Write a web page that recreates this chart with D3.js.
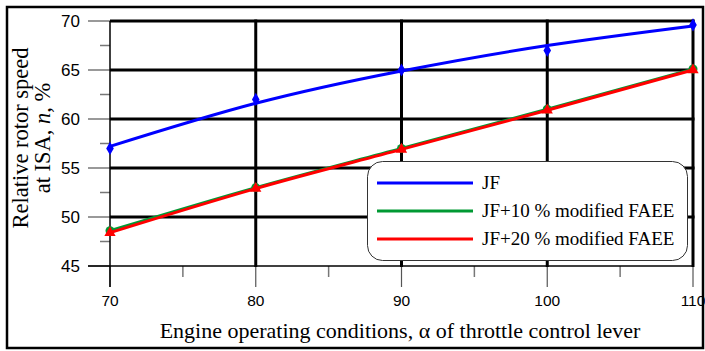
<!DOCTYPE html>
<html><head><meta charset="utf-8">
<script src="https://cdn.jsdelivr.net/npm/d3@7/dist/d3.min.js"></script>
<style>body{margin:0;background:#fff}svg{display:block}</style>
</head><body>
<svg id="c" width="705" height="351"></svg>
<script>
const xCats = [70, 80, 90, 100, 110];
const jfPoints = [57.0, 62.0, 65.0, 67.0, 69.6];
const jfTrend = [57.2, 61.6, 64.9, 67.5, 69.5];
const jf10Points = [48.6, 53.0, 57.0, 61.0, 65.1];
const jf20Points = [48.4, 52.9, 56.9, 60.9, 65.0];
const xTicks = [70, 80, 90, 100, 110];
const yTicks = [45, 50, 55, 60, 65, 70];
const seriesNames = ["JF", "JF+10 % modified FAEE", "JF+20 % modified FAEE"];
const colors = ["#0000ff", "#009933", "#ff0000"];

const svg = d3.select("#c");
const x = d3.scaleLinear().domain([70, 110]).range([110, 693]);
const y = d3.scaleLinear().domain([45, 70]).range([266, 21]);

// outer border
svg.append("rect").attr("x", 7).attr("y", 7).attr("width", 696).attr("height", 341)
  .attr("fill", "none").attr("stroke", "#000").attr("stroke-width", 2.5);

// minor ticks
const yMinor = d3.range(47.5, 70, 5);
svg.selectAll(".ymin").data(yMinor).enter().append("line")
  .attr("x1", 100).attr("x2", 110).attr("y1", d => y(d)).attr("y2", d => y(d))
  .attr("stroke", "#777").attr("stroke-width", 1.5);
const xMinor = d3.range(75, 110, 10);
svg.selectAll(".xmin").data(xMinor).enter().append("line")
  .attr("x1", d => x(d)).attr("x2", d => x(d)).attr("y1", 266).attr("y2", 277)
  .attr("stroke", "#777").attr("stroke-width", 1.5);

// major ticks
svg.selectAll(".ymaj").data(yTicks).enter().append("line")
  .attr("x1", 88).attr("x2", 110).attr("y1", d => y(d)).attr("y2", d => y(d))
  .attr("stroke", "#555").attr("stroke-width", 1.2);
svg.selectAll(".xmaj").data(xTicks).enter().append("line")
  .attr("x1", d => x(d)).attr("x2", d => x(d)).attr("y1", 266).attr("y2", 287)
  .attr("stroke", "#555").attr("stroke-width", 1.2);

// axis lines
svg.append("line").attr("x1", 110).attr("x2", 110).attr("y1", 21).attr("y2", 287)
  .attr("stroke", "#000").attr("stroke-width", 1.5);
svg.append("line").attr("x1", 88).attr("x2", 693).attr("y1", 266).attr("y2", 266)
  .attr("stroke", "#000").attr("stroke-width", 1.5);

// grid
svg.selectAll(".gy").data(yTicks.filter(d => d > 45)).enter().append("line")
  .attr("x1", 110).attr("x2", 694.5).attr("y1", d => y(d)).attr("y2", d => y(d))
  .attr("stroke", "#000").attr("stroke-width", 3);
svg.selectAll(".gx").data(xTicks.filter(d => d > 70)).enter().append("line")
  .attr("x1", d => x(d)).attr("x2", d => x(d)).attr("y1", 19.5).attr("y2", 267)
  .attr("stroke", "#000").attr("stroke-width", 3);

// tick labels
svg.selectAll(".yl").data(yTicks).enter().append("text")
  .attr("x", 80).attr("y", d => y(d)).attr("dy", "0.36em").attr("text-anchor", "end")
  .attr("font-family", "Liberation Sans, Arial, sans-serif").attr("font-size", 17)
  .text(d => d);
svg.selectAll(".xl").data(xTicks).enter().append("text")
  .attr("x", d => x(d)).attr("y", 306).attr("text-anchor", "middle")
  .attr("font-family", "Liberation Sans, Arial, sans-serif").attr("font-size", 15.5)
  .text(d => d);

// lines
const pts = arr => xCats.map((c, i) => [c, arr[i]]);
const lineNat = d3.line().x(d => x(d[0])).y(d => y(d[1])).curve(d3.curveNatural);
const lineMono = d3.line().x(d => x(d[0])).y(d => y(d[1])).curve(d3.curveMonotoneX);

svg.append("path").attr("d", lineNat(pts(jfTrend))).attr("fill", "none")
  .attr("stroke", colors[0]).attr("stroke-width", 3);
svg.append("path").attr("d", lineMono(pts(jf10Points))).attr("fill", "none")
  .attr("stroke", colors[1]).attr("stroke-width", 3);

// markers
const diamond = d3.symbol().type(d3.symbolDiamond).size(50);
svg.selectAll(".m0").data(pts(jfPoints)).enter().append("path")
  .attr("d", diamond).attr("transform", d => `translate(${x(d[0])},${y(d[1])})`)
  .attr("fill", colors[0]);
svg.selectAll(".m1").data(pts(jf10Points)).enter().append("circle")
  .attr("cx", d => x(d[0])).attr("cy", d => y(d[1])).attr("r", 4.5)
  .attr("fill", colors[1]);

svg.append("path").attr("d", lineMono(pts(jf20Points))).attr("fill", "none")
  .attr("stroke", colors[2]).attr("stroke-width", 3);
const tri = d3.symbol().type(d3.symbolTriangle).size(55);
svg.selectAll(".m2").data(pts(jf20Points)).enter().append("path")
  .attr("d", tri).attr("transform", d => `translate(${x(d[0])},${y(d[1])})`)
  .attr("fill", colors[2]);

// legend
const lg = svg.append("g");
lg.append("rect").attr("x", 367.5).attr("y", 161.5).attr("width", 320).attr("height", 99)
  .attr("rx", 15).attr("ry", 15).attr("fill", "#fff").attr("stroke", "#333").attr("stroke-width", 1);
seriesNames.forEach((n, i) => {
  const yy = 183 + i * 28;
  lg.append("line").attr("x1", 377).attr("x2", 473).attr("y1", yy).attr("y2", yy)
    .attr("stroke", colors[i]).attr("stroke-width", 3);
  lg.append("text").attr("x", 482).attr("y", yy).attr("dy", "0.33em")
    .attr("font-family", "Liberation Serif, Times New Roman, serif").attr("font-size", 19)
    .text(n);
});

// axis titles
svg.append("text").attr("x", 400).attr("y", 338).attr("text-anchor", "middle")
  .attr("font-family", "Liberation Serif, Times New Roman, serif").attr("font-size", 22)
  .text("Engine operating conditions, α of throttle control lever");

const yt = svg.append("g").attr("transform", "translate(0,138) rotate(-90)");
yt.append("text").attr("x", 0).attr("y", 28).attr("text-anchor", "middle")
  .attr("font-family", "Liberation Serif, Times New Roman, serif").attr("font-size", 22.5)
  .text("Relative rotor speed");
const t2 = yt.append("text").attr("x", 0).attr("y", 50).attr("text-anchor", "middle")
  .attr("font-family", "Liberation Serif, Times New Roman, serif").attr("font-size", 22.5);
t2.append("tspan").text("at ISA, ");
t2.append("tspan").attr("font-style", "italic").text("n");
t2.append("tspan").text(", %");
</script>
</body></html>
